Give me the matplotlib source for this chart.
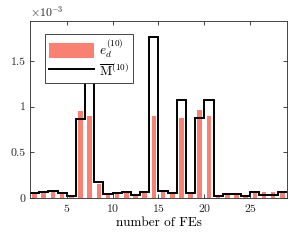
import numpy as np
import matplotlib
matplotlib.use("Agg")
import matplotlib.pyplot as plt

plt.rcParams['font.family'] = 'serif'
plt.rcParams['font.serif'] = ['cmr10', 'DejaVu Serif']
plt.rcParams['mathtext.fontset'] = 'cm'
plt.rcParams['axes.formatter.use_mathtext'] = True

# ------------------------------------------------------------------------
# values (units of 1e-3)
fe = np.arange(1, 29)
e_d = [0.05, 0.055, 0.08, 0.04, 0.02, 0.95, 0.90, 0.15, 0.03, 0.04,
       0.06, 0.02, 0.06, 0.90, 0.08, 0.045, 0.88, 0.05, 0.96, 0.90,
       0.02, 0.045, 0.045, 0.03, 0.06, 0.07, 0.07, 0.06]
m_bar = [0.055, 0.063, 0.074, 0.05, 0.027, 0.86, 1.45, 0.18, 0.045, 0.05,
         0.065, 0.03, 0.065, 1.76, 0.082, 0.057, 1.07, 0.057, 0.87, 1.07,
         0.02, 0.045, 0.045, 0.02, 0.065, 0.035, 0.035, 0.065]
xticks = [5, 10, 15, 20, 25]
yticks = [0, 0.5, 1, 1.5]
ytick_labels = ['0', '0.5', '1', '1.5']

# ------------------------------------------------------------------------
fig = plt.figure(figsize=(2.94, 2.43), dpi=100)
ax = fig.add_axes([0.102, 0.185, 0.874, 0.729])

bars = ax.bar(fe + 0.5, e_d, width=0.5, color='#FA8072', label=r'$e_d^{(10)}$')
edges = np.append(fe, fe[-1] + 1)
stp = ax.stairs(m_bar, edges, baseline=None, color='black', lw=1.4,
                label=r'$\overline{\mathrm{M}}^{(10)}$')

ax.set_xlim(1, 29)
ax.set_ylim(0, 1.1 * max(m_bar))
ax.set_xticks(xticks)
ax.set_yticks(yticks)
ax.set_yticklabels(ytick_labels)
ax.tick_params(direction='in', top=True, right=True, labelsize=8.5,
               length=3, width=0.6, colors='#262626', pad=3)
for s in ax.spines.values():
    s.set_linewidth(0.6)
    s.set_color('#262626')

ax.set_xlabel('number of FEs', fontsize=9.5, labelpad=2)
ax.text(0.0, 1.01, r'$\times10^{-3}$', transform=ax.transAxes,
        fontsize=8.5, ha='left', va='bottom', color='#262626')

leg = ax.legend(handles=[bars, stp], loc='upper left',
                bbox_to_anchor=(0.058, 0.927), borderaxespad=0,
                fontsize=9.5, handlelength=3.4, handleheight=1.3,
                fancybox=False, framealpha=1, edgecolor='#262626',
                borderpad=0.3, labelspacing=0.2, handletextpad=0.4)
leg.get_frame().set_linewidth(0.6)

fig.savefig('out.png', dpi=100)
